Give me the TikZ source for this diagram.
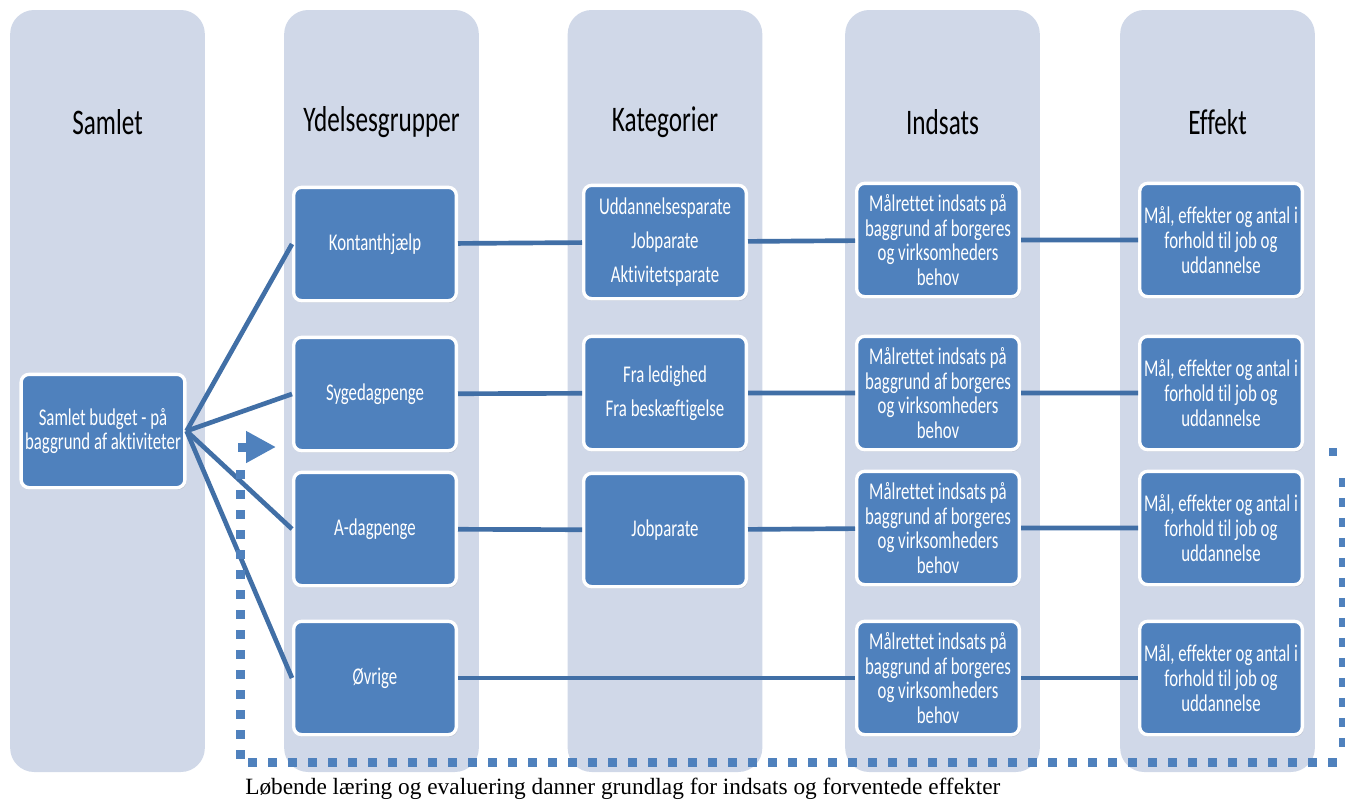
\documentclass[tikz,border=0pt]{standalone}
\usepackage{fontspec}
\setmainfont{Liberation Serif}
\newfontfamily\boxfont[FakeStretch=0.7, Ligatures=NoCommon]{Carlito}
\usetikzlibrary{arrows.meta}
\usetikzlibrary{shadows}
\definecolor{lanegray}{HTML}{D0D8E8}
\definecolor{boxblue}{HTML}{4F81BD}
\definecolor{lineblue}{HTML}{416FA6}
\tikzset {
  % background column
  lane/.style = {
    fill = lanegray,
    rounded corners = 18pt,
    minimum width = 146pt,
    minimum height = 571.5pt,
    inner sep = 0
  },
  lane title/.style = {
    font = \boxfont\fontsize{27}{30}\selectfont
  },
  % blue box
  block/.style = {
    draw = white,
    line width = 2.5pt,
    fill = boxblue,
    rounded corners = 6pt,
    minimum width = 122pt,
    minimum height = 85pt,
    inner sep = 3pt,
    text = white,
    align = center,
    font = \boxfont\fontsize{18}{18.5}\selectfont,
    drop shadow = {opacity = 0.2, shadow xshift = 1pt, shadow yshift = -1.5pt}
  },
  % connector between boxes
  conn/.style = {
    draw = lineblue,
    line width = 3.5pt
  },
  % dotted return line
  feedback/.style = {
    draw = boxblue,
    line width = 6.75pt,
    dash pattern = on 6.75pt off 8.25pt
  }
}
\begin{document}
\begin{tikzpicture}[x=0.75pt, y=-0.75pt]
    \useasboundingbox (0,0) rectangle (1345,800);

    \foreach \cx/\name/\title in {107.5/samlet/Samlet, 381.5/ydelse/Ydelsesgrupper,
      665/kategori/Kategorier, 942.5/indsats/Indsats, 1217.5/effekt/Effekt} {
      \node[lane] (lane-\name) at (\cx,391) {};
      \node[lane title] (title-\name) at (\cx,122) {\title};
    }

    \node[block] (budget) at (103,431) {Samlet budget - på\\baggrund af aktiviteter};

    \node[block] (kontant) at (375,244) {Kontanthjælp};
    \node[block] (syge) at (375,394) {Sygedagpenge};
    \node[block] (adag) at (375,529) {A-dagpenge};
    \node[block] (oevrige) at (375,678) {Øvrige};

    \node[block] (kat-kontant) at (665,242) {Uddannelsesparate\\[7pt]Jobparate\\[7pt]Aktivitetsparate};
    \node[block] (kat-syge) at (665,393) {Fra ledighed\\[7pt]Fra beskæftigelse};
    \node[block] (kat-adag) at (665,530) {Jobparate};

    \foreach \row/\ypos in {1/240, 2/393, 3/528, 4/678} {
      \node[block] (indsats-\row) at (938,\ypos)
        {Målrettet indsats på\\baggrund af borgeres\\og virksomheders\\behov};
      \node[block] (effekt-\row) at (1221,\ypos)
        {Mål, effekter og antal i\\forhold til job og\\uddannelse};
    }

    \draw[conn] (budget.east) -- (kontant.west);
    \draw[conn] (budget.east) -- (syge.west);
    \draw[conn] (budget.east) -- (adag.west);
    \draw[conn] (budget.east) -- (oevrige.west);

    \draw[conn] (kontant) -- (kat-kontant) -- (indsats-1) -- (effekt-1);
    \draw[conn] (syge) -- (kat-syge) -- (indsats-2) -- (effekt-2);
    \draw[conn] (adag) -- (kat-adag) -- (indsats-3) -- (effekt-3);
    \draw[conn] (oevrige) -- (indsats-4) -- (effekt-4);

    % return loop
    \coordinate (fb-start) at (240,470);
    \coordinate (fb-corner) at (240,762);
    \coordinate (fb-end) at (1345,762);
    \coordinate (fb-right-top) at (1343,478);
    \coordinate (fb-right-bottom) at (1343,748);
    \draw[feedback] (fb-start) -- (fb-corner) -- (fb-end);
    \draw[feedback] (fb-right-top) -- (fb-right-bottom);
    \fill[boxblue] (1329,448) rectangle (1337,456);

    \coordinate (arrow-tail) at (238,447);
    \coordinate (arrow-tip) at (276,447);
    \draw[boxblue, line width = 6.75pt, -{Triangle[length=22.5pt, width=22.5pt]}]
      (arrow-tail) -- (arrow-tip);

    \node[anchor = base west, inner sep = 0, font = \fontsize{17.5}{20}\selectfont]
      (caption) at (245,794)
      {Løbende læring og evaluering danner grundlag for indsats og forventede effekter};
\end{tikzpicture}
\end{document}
